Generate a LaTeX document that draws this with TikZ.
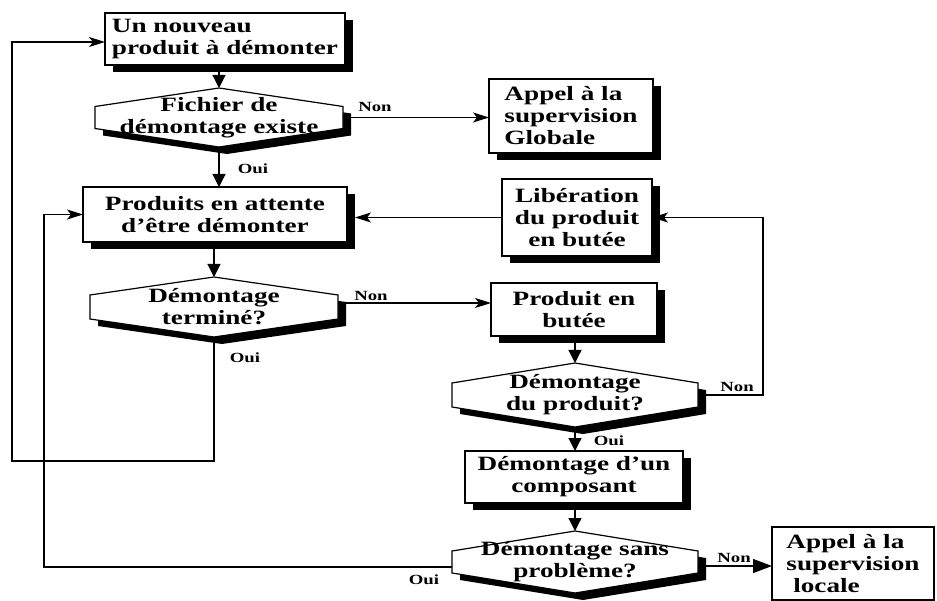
\documentclass[tikz,border=0pt]{standalone}
\usepackage{fontspec}
\newfontfamily\dfont[FakeStretch=1.34]{Liberation Serif}
\usetikzlibrary{arrows.meta,shadows,calc}
\newcommand\decnode[7]{%
  \fill[black,shift={(8,7)}] (#2,#3-#5) -- (#2+#4,#3-#6) -- (#2+#4,#3+#6) -- (#2,#3+#5) -- (#2-#4,#3+#6) -- (#2-#4,#3-#6) -- cycle;
  \draw[line width=1.2pt,fill=white] (#2,#3-#5) -- (#2+#4,#3-#6) -- (#2+#4,#3+#6) -- (#2,#3+#5) -- (#2-#4,#3+#6) -- (#2-#4,#3-#6) -- cycle;
  \node[dectext,minimum width={2*#4pt},minimum height={2*#5pt}] (#1) at (#2,#3) {#7};
}
\tikzset{
  txt/.style={font={\dfont\bfseries\fontsize{20.3pt}{22pt}\selectfont}},
  box/.style={txt,draw,line width=1.2pt,fill=white,inner sep=0pt,outer sep=0pt,align=center},
  shbox/.style={box,drop shadow={shadow xshift=8pt,shadow yshift=-7pt,fill=black,opacity=1}},
  dectext/.style={txt,inner sep=0pt,outer sep=0pt,align=center},
  lab/.style={font={\dfont\bfseries\fontsize{14pt}{15pt}\selectfont},inner sep=0pt},
  conn/.style={line width=1.2pt},
  vtip/.style={conn,-{Triangle[length=13pt,width=13pt]}},
  htip/.style={conn,-{Stealth[length=16pt,width=10pt,inset=4pt]}},
  bigtip/.style={conn,-{Triangle[length=19pt,width=14pt]}}
}
\begin{document}
\begin{tikzpicture}[x=1pt,y=-1pt]
\useasboundingbox[fill=white] (0,0) rectangle (937,601);
% boxes
\node[shbox,align=left,minimum width=240pt,minimum height=52pt] (b1) at (225,39) {Un nouveau\\produit à démonter};
\node[shbox,align=left,minimum width=164pt,minimum height=74pt] (glob) at (571,116) {Appel à la\\supervision\\Globale};
\node[shbox,minimum width=264pt,minimum height=55pt] (b2) at (215,214.5) {Produits en attente\\d’être démonter};
\node[shbox,minimum width=150pt,minimum height=77pt] (libe) at (577,217.5) {Libération\\du produit\\en butée};
\node[shbox,minimum width=166pt,minimum height=53pt] (butee) at (574,309.5) {Produit en\\butée};
\node[shbox,minimum width=218pt,minimum height=52pt] (comp) at (574,477) {Démontage d’un\\composant};
\node[box,align=left,minimum width=162pt,minimum height=73pt] (loc) at (853,563.5) {Appel à la\\supervision\\\ locale};
% decisions
\decnode{d1}{219}{117.5}{124}{29.5}{11}{Fichier de\\démontage existe}
\decnode{d2}{214}{307}{124}{30}{12}{Démontage\\terminé?}
\decnode{d3}{575}{395}{123}{32}{12}{Démontage\\du produit?}
\decnode{d4}{575}{562}{123}{31}{11}{Démontage sans\\problème?}
% helper coordinates
\coordinate (ll) at (12,461);
\coordinate (ml) at (44,0);
\coordinate (rl) at (763,0);
\path ([xshift=8pt]b2.east) coordinate (b2e);
% connectors
\draw[vtip] (d1.north |- b1.south) -- (d1.north);
\draw[htip] (d1.east) -- (glob.west |- d1.east);
\draw[vtip] (d1.south) -- (d1.south |- b2.north);
\draw[vtip] (d2.north |- b2.south) -- (d2.north);
\draw[htip] ([yshift=4pt]d2.east) coordinate (n2) -- (n2 -| butee.west);
\draw[vtip] (d3.north |- butee.south) -- (d3.north);
\draw[htip] (d3.east) -| (rl |- libe.east) -- (libe.east);
\draw[htip] (libe.west) -- (b2e |- libe.west);
\draw[vtip] (d3.south) -- (d3.south |- comp.north);
\draw[vtip] (d4.north |- comp.south) -- (d4.north);
\draw[bigtip] ([yshift=-4pt]d4.east) coordinate (n4) -- (n4 -| loc.west);
\draw[htip] (d2.south) |- (ll) |- ([yshift=-3pt]b1.west);
\draw[htip] ([yshift=-5pt]d4.west) -| (ml |- b2.west) -- (b2.west);
% labels
\node[lab] (l1) at (375,107) {Non};
\node[lab] (l2) at (253,169) {Oui};
\node[lab] (l3) at (371,296) {Non};
\node[lab] (l4) at (245,358) {Oui};
\node[lab] (l5) at (737,387) {Non};
\node[lab] (l6) at (609,441) {Oui};
\node[lab] (l7) at (424,580) {Oui};
\node[lab] (l8) at (734,558) {Non};
\end{tikzpicture}
\end{document}
